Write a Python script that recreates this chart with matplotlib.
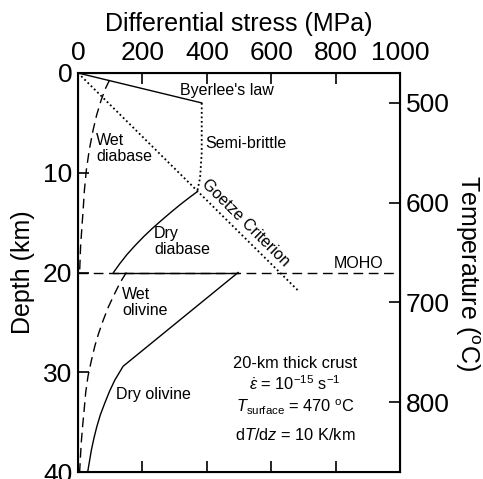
import numpy as np
import matplotlib as mpl
import matplotlib.pyplot as plt

mpl.rcParams['font.family'] = ['Liberation Sans', 'DejaVu Sans']
mpl.rcParams['mathtext.fontset'] = 'custom'
mpl.rcParams['mathtext.rm'] = 'Liberation Sans'
mpl.rcParams['mathtext.it'] = 'Liberation Sans:italic'
mpl.rcParams['mathtext.bf'] = 'Liberation Sans:bold'

# depths in km, stresses in MPa
byerlee_z = [0, 3.0]
byerlee_s = [0, 384]

semi_z = [3.0, 8.0, 10.5, 11.9]
semi_s = [384, 384, 379, 370]

goetze_z = [0, 21.9]
goetze_s = [0, 686]

wet_diabase_z = [0.7, 1.5, 2.7, 4.2, 5.7, 7.7, 9.7, 11.7, 13.7, 15.5, 17.4, 20]
wet_diabase_s = [98, 86, 72, 58, 47, 35, 26, 20, 16, 12, 8, 5]

dry_diabase_z = [11.9, 12.5, 13.2, 14.0, 14.8, 15.6, 16.4, 17.3, 18.2, 19.1, 20.0]
dry_diabase_s = [370, 345, 317, 287, 258, 230, 204, 177, 152, 130, 110]

moho_jump_z = [20, 20]
moho_jump_s = [110, 497]

wet_olivine_z = [20, 21, 22.1, 23.4, 24.8, 26.1, 27.4, 28.9, 30.4, 32, 33.8, 35.5, 37.1, 40]
wet_olivine_s = [150, 131, 114, 95, 78, 64, 52, 41, 31, 24, 19, 14, 10, 5]

dry_olivine_z = [20, 29.4, 30.1, 30.8, 31.9, 33.1, 34.3, 35.5, 36.6, 37.8, 40]
dry_olivine_s = [497, 140, 127, 114, 98, 83, 69, 58, 49.5, 41.5, 30]

moho_depth = 20
t_surface = 470
t_grad = 10

fig = plt.figure(figsize=(4.83, 4.79), dpi=100)
ax = fig.add_axes([0.1615, 0.0146, 0.8285 - 0.1615, 0.8476 - 0.0146])

dash = (0, (7, 4))
dot = (0, (1, 1.5))
ax.plot(byerlee_s, byerlee_z, 'k-', lw=1)
ax.plot(semi_s, semi_z, 'k', ls=dot, lw=1.3)
ax.plot(goetze_s, goetze_z, 'k', ls=dot, lw=1.3)
ax.plot(wet_diabase_s, wet_diabase_z, 'k', ls=dash, lw=1)
ax.plot(dry_diabase_s, dry_diabase_z, 'k-', lw=1)
ax.plot(moho_jump_s, moho_jump_z, 'k-', lw=1)
ax.plot(wet_olivine_s, wet_olivine_z, 'k', ls=dash, lw=1)
ax.plot(dry_olivine_s, dry_olivine_z, 'k-', lw=1)
ax.axhline(moho_depth, color='k', ls=dash, lw=1)

ax.set_xlim(0, 1000)
ax.set_ylim(40, 0)
ax.set_xticks([0, 200, 400, 600, 800, 1000])
ax.set_yticks([0, 10, 20, 30, 40])
ax.xaxis.tick_top()
ax.xaxis.set_label_position('top')
ax.tick_params(axis='both', direction='in', length=8, width=1.2, labelsize=19, pad=4)
ax.tick_params(axis='x', bottom=True, labelbottom=False, pad=6)
ax.set_xlabel('Differential stress (MPa)', fontsize=18, labelpad=7)
ax.set_ylabel('Depth (km)', fontsize=18, labelpad=6)
for sp in ax.spines.values():
    sp.set_linewidth(1.5)

ax2 = ax.twinx()
ax2.set_ylim(t_surface + t_grad * 40, t_surface)
ax2.set_yticks([500, 600, 700, 800])
ax2.tick_params(axis='y', direction='in', length=8, width=1.2, labelsize=19, pad=4)
ax2.set_ylabel('Temperature ($^{\\mathrm{o}}$C)', fontsize=18, rotation=-90, labelpad=23)

fs = 11.5
ax.text(317, 1.8, "Byerlee's law", fontsize=fs, va='center', ha='left')
ax.text(394, 7.1, 'Semi-brittle', fontsize=fs, va='center', ha='left')
ax.text(56, 7.6, 'Wet\ndiabase', fontsize=fs, va='center', ha='left', linespacing=1.1)
ax.text(236, 16.9, 'Dry\ndiabase', fontsize=fs, va='center', ha='left', linespacing=1.1)
ax.text(520, 15.0, 'Goetze Criterion', fontsize=fs, va='center', ha='center', rotation=-44.7,
        rotation_mode='anchor')
ax.text(870, 19.05, 'MOHO', fontsize=fs, va='center', ha='center')
ax.text(137, 23.0, 'Wet\nolivine', fontsize=fs, va='center', ha='left', linespacing=1.1)
ax.text(118, 32.2, 'Dry olivine', fontsize=fs, va='center', ha='left')

fa = 11.8
ax.text(674, 29.1, '20-km thick crust', fontsize=fa, ha='center', va='center')
ax.text(674, 31.1, '$\\dot{\\varepsilon}$ = 10$^{-15}$ s$^{-1}$', fontsize=fa, ha='center', va='center')
ax.text(674, 33.5, '$T_{\\mathrm{surface}}$ = 470 $^{\\mathrm{o}}$C', fontsize=fa, ha='center', va='center')
ax.text(674, 36.3, 'd$T$/d$z$ = 10 K/km', fontsize=fa, ha='center', va='center')

fig.savefig('out.png', dpi=100)
